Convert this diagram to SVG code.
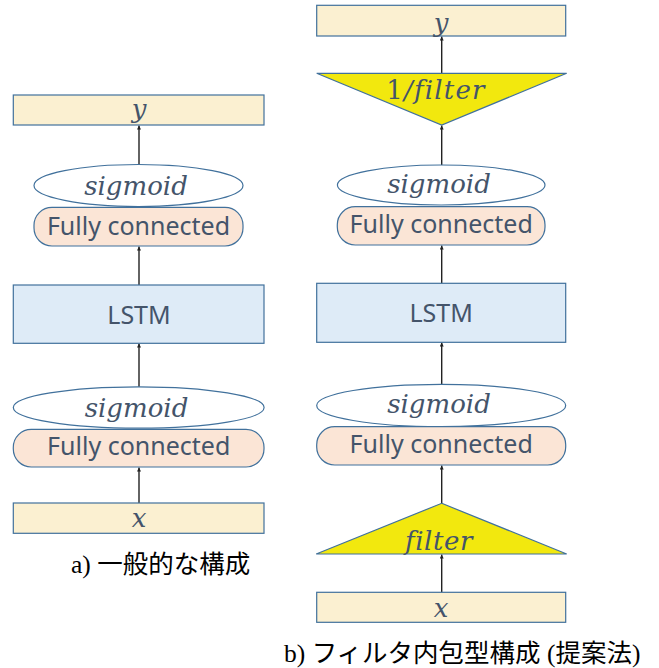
<svg xmlns="http://www.w3.org/2000/svg" width="659" height="668" viewBox="0 0 659 668">
<defs>
<style>
.io{fill:#FBF0D1;stroke:#41719C;stroke-width:1.2}
.lstm{fill:#DEEBF7;stroke:#41719C;stroke-width:1.2}
.fc{fill:#FBE5D6;stroke:#41719C;stroke-width:1.2}
.sig{fill:#FFFFFF;stroke:#41719C;stroke-width:1.2}
.tri{fill:#F2E80E;stroke:#41719C;stroke-width:1.2}
.lbl{font-family:"Noto Sans","DejaVu Sans",sans-serif;font-size:25px;fill:#44546A;text-anchor:middle}
.math{font-family:"DejaVu Serif",serif;font-style:italic;font-size:26px;fill:#44546A;text-anchor:middle}
.cap{font-family:"Liberation Serif","Noto Sans CJK JP",serif;font-size:25.5px;fill:#000}
.cj{font-family:"Noto Sans CJK JP",sans-serif}
.conn line{stroke:#222;stroke-width:1.4;marker-end:url(#ah)}
</style>
<marker id="ah" viewBox="0 0 6 6" refX="6" refY="3" markerWidth="4" markerHeight="4" orient="auto" markerUnits="userSpaceOnUse">
<path d="M0,0 L6,3 L0,6 z" fill="#222"/>
</marker>
</defs>
<rect width="659" height="668" fill="#FFFFFF"/>

<g id="connectors" class="conn">
<line x1="139" y1="164" x2="139" y2="125.5"/>
<line x1="139" y1="285" x2="139" y2="246.5"/>
<line x1="139" y1="387" x2="139" y2="343.5"/>
<line x1="139" y1="503" x2="139" y2="467.5"/>
<line x1="441.7" y1="73" x2="441.7" y2="36.5"/>
<line x1="441.7" y1="165" x2="441.7" y2="125.5"/>
<line x1="441.7" y1="283.5" x2="441.7" y2="245.5"/>
<line x1="441.7" y1="384.5" x2="441.7" y2="342.5"/>
<line x1="441.7" y1="503" x2="441.7" y2="465.5"/>
<line x1="441.7" y1="592.5" x2="441.7" y2="554.5"/>
</g>

<g id="a-y"><rect class="io" x="13.3" y="95" width="250.7" height="30"/><text class="math" x="139" y="118">y</text></g>
<g id="a-sigmoid1"><ellipse class="sig" cx="138.5" cy="185.5" rx="104.5" ry="21"/><text class="math" x="136" y="195">sigmoid</text></g>
<g id="a-fc1"><rect class="fc" x="34" y="207.3" width="209" height="38.7" rx="18"/><text class="lbl" x="138.5" y="235">Fully connected</text></g>
<g id="a-lstm"><rect class="lstm" x="13.3" y="285" width="250.7" height="58.3"/><text class="lbl" x="139" y="324">LSTM</text></g>
<g id="a-sigmoid2"><ellipse class="sig" cx="138.7" cy="407.5" rx="125.4" ry="20.7"/><text class="math" x="136.5" y="416.7">sigmoid</text></g>
<g id="a-fc2"><rect class="fc" x="13.3" y="429.3" width="250.7" height="37.7" rx="18"/><text class="lbl" x="138.7" y="455">Fully connected</text></g>
<g id="a-x"><rect class="io" x="13.3" y="503" width="250.7" height="30.3"/><text class="math" x="139" y="527">x</text></g>
<text class="cap" x="71" y="573">a) <tspan class="cj">一般的な構成</tspan></text>

<g id="b-y"><rect class="io" x="316.7" y="5.3" width="249" height="30.7"/><text class="math" x="441.2" y="31.7">y</text></g>
<g id="b-invfilter"><polygon class="tri" points="316.7,73.3 566.7,73.3 441.7,125"/><text class="math" x="436" y="99" letter-spacing="1.2"><tspan font-style="normal">1</tspan>/filter</text></g>
<g id="b-sigmoid1"><ellipse class="sig" cx="441.2" cy="185" rx="103.8" ry="20"/><text class="math" x="439" y="193.3">sigmoid</text></g>
<g id="b-fc1"><rect class="fc" x="337.3" y="206.7" width="207.7" height="38.3" rx="18"/><text class="lbl" x="441.2" y="232.7">Fully connected</text></g>
<g id="b-lstm"><rect class="lstm" x="316.7" y="283.3" width="249" height="59"/><text class="lbl" x="441.2" y="321.7">LSTM</text></g>
<g id="b-sigmoid2"><ellipse class="sig" cx="441.2" cy="405.5" rx="124.5" ry="21.2"/><text class="math" x="439" y="413.3">sigmoid</text></g>
<g id="b-fc2"><rect class="fc" x="316.7" y="426.7" width="249" height="38.3" rx="18"/><text class="lbl" x="441.2" y="452.7">Fully connected</text></g>
<g id="b-filter"><polygon class="tri" points="441.7,503.3 566.7,554 316.2,554"/><text class="math" x="439" y="550" letter-spacing="0.6">filter</text></g>
<g id="b-x"><rect class="io" x="316.7" y="592.3" width="249" height="30"/><text class="math" x="441.2" y="616.7">x</text></g>
<text class="cap" x="284" y="662">b) <tspan class="cj">フィルタ内包型構成</tspan> (<tspan class="cj">提案法</tspan>)</text>
</svg>
